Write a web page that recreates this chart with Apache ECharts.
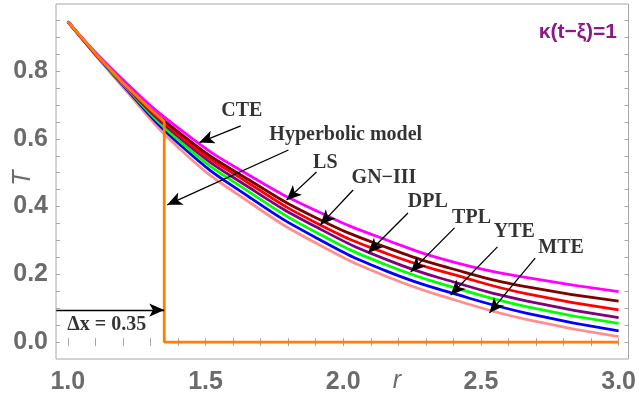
<!DOCTYPE html>
<html>
<head>
<meta charset="utf-8">
<script src="https://cdn.jsdelivr.net/npm/echarts@6/dist/echarts.min.js"></script>
<style>
  html, body { margin: 0; padding: 0; background: #fff; }
  #chart { width: 639px; height: 400px; }
</style>
</head>
<body>
<div id="chart"></div>
<script>
const rValues = [1.0, 1.188, 1.422, 1.657, 1.906, 2.162, 2.415, 2.668, 3.0];

const cteT   = [0.946, 0.784, 0.619, 0.493, 0.386, 0.300, 0.233, 0.190, 0.149];
const lsT    = [0.946, 0.779, 0.607, 0.479, 0.365, 0.278, 0.212, 0.163, 0.121];
const gnT    = [0.946, 0.776, 0.599, 0.469, 0.350, 0.260, 0.196, 0.142, 0.095];
const dplT   = [0.946, 0.774, 0.592, 0.457, 0.338, 0.242, 0.174, 0.121, 0.072];
const tplT   = [0.946, 0.772, 0.582, 0.444, 0.322, 0.226, 0.158, 0.104, 0.055];
const yteT   = [0.946, 0.769, 0.572, 0.429, 0.306, 0.208, 0.140, 0.085, 0.033];
const mteT   = [0.946, 0.764, 0.559, 0.414, 0.290, 0.192, 0.122, 0.066, 0.016];

// hyperbolic model: wave front at r = 1.35, zero beyond it
const hypR = [1.0, 1.1, 1.2, 1.3, 1.35, 1.35, 3.0];
const hypT = [0.946, 0.852, 0.765, 0.688, 0.651, 0.0, 0.0];

const xTicks  = [1.0, 1.1, 1.2, 1.3, 1.4, 1.5, 1.6, 1.7, 1.8, 1.9, 2.0, 2.1, 2.2, 2.3, 2.4, 2.5, 2.6, 2.7, 2.8, 2.9, 3.0];
const xLabels = [1.0, 1.5, 2.0, 2.5, 3.0];
const yTicks  = [0, 0.05, 0.1, 0.15, 0.2, 0.25, 0.3, 0.35, 0.4, 0.45, 0.5, 0.55, 0.6, 0.65, 0.7, 0.75, 0.8, 0.85, 0.9, 0.95];
const yLabels = [0, 0.2, 0.4, 0.6, 0.8];

// annotations (data coordinates)
const noteText  = ['CTE', 'Hyperbolic model', 'LS', 'GN\u2212III', 'DPL', 'TPL', 'YTE', 'MTE', '\u0394x = 0.35'];
const noteAt    = [[1.632, 0.682], [2.009, 0.612], [1.935, 0.529], [2.148, 0.484], [2.307, 0.414], [2.466, 0.366], [2.621, 0.325], [2.791, 0.278], [1.141, 0.050]];
const arrowFrom = [[1.628, 0.638], [1.801, 0.567], [1.903, 0.502], [2.036, 0.449], [2.235, 0.381], [2.404, 0.337], [2.560, 0.281], [2.697, 0.248], [0.958, 0.0945]];
const arrowTo   = [[1.477, 0.589], [1.361, 0.405], [1.794, 0.419], [1.917, 0.346], [2.090, 0.263], [2.245, 0.207], [2.390, 0.139], [2.531, 0.086], [1.350, 0.0945]];

const curves = [
  { name: 'CTE', values: cteT, color: '#ff00ff' },
  { name: 'LS', values: lsT, color: '#7f0000' },
  { name: 'GN-III', values: gnT, color: '#ff0000' },
  { name: 'DPL', values: dplT, color: '#800080' },
  { name: 'TPL', values: tplT, color: '#00ff00' },
  { name: 'YTE', values: yteT, color: '#0000ff' },
  { name: 'MTE', values: mteT, color: '#ff8f8f' },
];

const chart = echarts.init(document.getElementById('chart'));

const tickLabel = {
  color: '#6b6b6b',
  fontFamily: 'Liberation Sans',
  fontWeight: 'bold',
  fontSize: 25,
  formatter: v => v.toFixed(1),
};
const gray = '#a6a6a6';

const series = curves.slice().reverse().map(c => ({
  name: c.name,
  type: 'line',
  data: rValues.map((r, i) => [r, c.values[i]]),
  smooth: 0.5,
  showSymbol: false,
  lineStyle: { color: c.color, width: 2.8 },
  z: 2,
}));

series.push({
  name: 'Hyperbolic model',
  type: 'line',
  data: hypR.map((r, i) => [r, hypT[i]]),
  showSymbol: false,
  lineStyle: { color: '#ff8000', width: 2.8 },
  z: 3,
});

series.push({
  name: 'arrows',
  type: 'line',
  data: [],
  z: 4,
  markLine: {
    silent: true,
    animation: false,
    symbol: ['none', 'arrow'],
    symbolSize: [10, 15],
    label: { show: false },
    lineStyle: { color: '#000', width: 1.3, type: 'solid' },
    data: arrowFrom.map((f, i) => [{ coord: f }, { coord: arrowTo[i] }]),
  },
});

series.push({
  name: 'notes',
  type: 'scatter',
  symbolSize: 0,
  clip: false,
  z: 5,
  data: noteText.map((t, i) => ({ value: noteAt[i], name: t })),
  label: {
    show: true,
    position: 'inside',
    formatter: p => p.name,
    color: '#000',
    fontFamily: 'Liberation Serif',
    fontWeight: 'bold',
    fontSize: 20,
  },
});

chart.setOption({
  animation: false,
  grid: { left: 56, right: 7, top: 4, bottom: 41, show: true, borderColor: gray, borderWidth: 1 },
  xAxis: [
    {
      type: 'value', min: 0.957, max: 3.036, position: 'bottom',
      axisLine: { show: false },
      axisTick: { show: true, inside: true, length: 4, lineStyle: { color: gray }, customValues: xTicks },
      axisLabel: Object.assign({ margin: 11, customValues: xLabels }, tickLabel),
      splitLine: { show: false },
    },
    {
      type: 'value', min: 0.957, max: 3.036, position: 'top',
      axisLine: { show: false },
      axisTick: { show: true, inside: true, length: 4, lineStyle: { color: gray }, customValues: xTicks },
      axisLabel: { show: false },
      splitLine: { show: false },
    },
  ],
  yAxis: [
    {
      type: 'value', min: -0.05, max: 0.998, position: 'left',
      axisLine: { show: false },
      axisTick: { show: true, inside: true, length: 4, lineStyle: { color: gray }, customValues: yTicks },
      axisLabel: Object.assign({ margin: 8, customValues: yLabels }, tickLabel),
      splitLine: { show: false },
    },
    {
      type: 'value', min: -0.05, max: 0.998, position: 'right',
      axisLine: { show: false },
      axisTick: { show: true, inside: true, length: 4, lineStyle: { color: gray }, customValues: yTicks },
      axisLabel: { show: false },
      splitLine: { show: false },
    },
  ],
  graphic: [
    {
      type: 'text', x: 23, y: 178, rotation: Math.PI / 2,
      style: { text: 'T', fill: '#6b6b6b', font: 'italic 25px "Liberation Sans"', align: 'center', verticalAlign: 'middle' },
    },
    {
      type: 'text', x: 397, y: 381,
      style: { text: 'r', fill: '#6b6b6b', font: 'italic 25px "Liberation Sans"', align: 'center', verticalAlign: 'middle' },
    },
    {
      type: 'text', x: 617, y: 32,
      style: { text: '\u03ba(t\u2212\u03be)=1', fill: '#8b1a89', font: 'bold 21px "Liberation Sans"', align: 'right', verticalAlign: 'middle' },
    },
  ],
  series,
});
</script>
</body>
</html>
